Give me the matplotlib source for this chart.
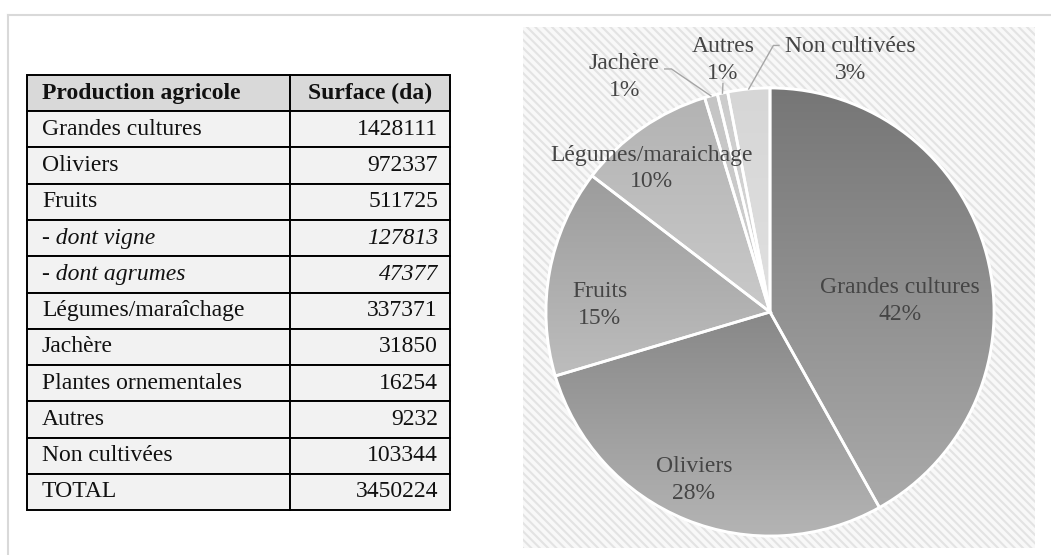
import matplotlib
matplotlib.use('Agg')
import matplotlib.pyplot as plt
import numpy as np
from matplotlib.colors import LinearSegmentedColormap
from matplotlib.patches import Wedge, Rectangle
from matplotlib.lines import Line2D

plt.rcParams['font.family'] = ['Liberation Serif', 'DejaVu Serif']
plt.rcParams['hatch.color'] = '#e3e3e3'
plt.rcParams['hatch.linewidth'] = 1.5

# table data
productions = ['Grandes cultures', 'Oliviers', 'Fruits', '- dont vigne', '- dont agrumes',
               'Légumes/maraîchage', 'Jachère', 'Plantes ornementales', 'Autres',
               'Non cultivées', 'TOTAL']
surfaces = ['1428111', '972337', '511725', '127813', '47377', '337371', '31850',
            '16254', '9232', '103344', '3450224']
italic_rows = ['- dont vigne', '- dont agrumes']

# pie data (Autres in the pie also holds Plantes ornementales: 9232 + 16254)
pie_labels = ['Grandes cultures', 'Oliviers', 'Fruits', 'Légumes/maraichage',
              'Jachère', 'Autres', 'Non cultivées']
pie_values = [1428111, 972337, 511725, 337371, 31850, 25486, 103344]
pie_pct = ['42%', '28%', '15%', '10%', '1%', '1%', '3%']

# styles
grad_top = ['#767676', '#888888', '#9c9c9c', '#b3b3b3', '#c4c4c4', '#cccccc', '#d6d6d6']
grad_bot = ['#aaaaaa', '#b4b4b4', '#bdbdbd', '#c9c9c9', '#d2d2d2', '#d8d8d8', '#e0e0e0']
label_pos = [(0.58, 0.05), (-0.34, -0.75), (-0.76, 0.03), (-0.53, 0.64),
             (-0.65, 1.05), (-0.21, 1.125), (0.36, 1.125)]
W, H = 1051, 555

fig = plt.figure(figsize=(W / 100, H / 100), dpi=100)
fig.patch.set_facecolor('white')

# light outer frame
fig.add_artist(Line2D([8 / W, 1], [1 - 15 / H, 1 - 15 / H], color='#d9d9d9', lw=1.5))
fig.add_artist(Line2D([8 / W, 8 / W], [0, 1 - 15 / H], color='#d9d9d9', lw=1.5))

# ---- table ----
tax = fig.add_axes([27 / W, 1 - 510 / H, 423 / W, 435 / H])
tax.axis('off')
cells = [['Production agricole', 'Surface (da)']] + [[p, s] for p, s in zip(productions, surfaces)]
tbl = tax.table(cellText=cells, colWidths=[263 / 423, 160 / 423], bbox=[0, 0, 1, 1])
tbl.auto_set_font_size(False)
for (r, c), cell in tbl.get_celld().items():
    cell.set_edgecolor('black')
    cell.set_linewidth(1.4)
    txt = cell.get_text()
    txt.set_fontsize(17)
    txt.set_color('#111111')
    if r == 0:
        cell.set_facecolor('#d9d9d9')
        txt.set_fontweight('bold')
        cell._loc = 'left' if c == 0 else 'center'
        cell.PAD = 0.057
    else:
        cell.set_facecolor('#f2f2f2')
        if c == 0:
            cell._loc = 'left'
            cell.PAD = 0.057
        else:
            cell._loc = 'right'
            cell.PAD = 0.075
        if cells[r][0] in italic_rows:
            txt.set_fontstyle('italic')
    txt.set_horizontalalignment(cell._loc)

# ---- pie ----
px0, py0, pw, ph = 523, 27, 512, 521
pax = fig.add_axes([px0 / W, 1 - (py0 + ph) / H, pw / W, ph / H])
pax.add_patch(Rectangle((0, 0), 1, 1, transform=pax.transAxes, facecolor='#f8f8f8',
                        edgecolor='#e3e3e3', linewidth=0, hatch='\\' * 4, zorder=0))

wedges, _ = pax.pie(pie_values, startangle=90, counterclock=False, colors=grad_bot,
                    wedgeprops=dict(edgecolor='white', linewidth=2))
grad = np.linspace(0, 1, 256).reshape(-1, 1)
for i, w in enumerate(wedges):
    ext = w.get_path().get_extents()
    cmap = LinearSegmentedColormap.from_list('g%d' % i, [grad_bot[i], grad_top[i]])
    im = pax.imshow(grad, cmap=cmap, origin='lower', aspect='auto',
                    extent=(ext.x0, ext.x1, ext.y0, ext.y1), zorder=2)
    im.set_clip_path(w)
    pax.add_patch(Wedge(w.center, w.r, w.theta1, w.theta2, facecolor='none',
                        edgecolor='white', linewidth=2, zorder=3))

for lab, pct, (x, y) in zip(pie_labels, pie_pct, label_pos):
    pax.text(x, y, lab + '\n' + pct, ha='center', va='center', fontsize=17,
             color='#454545', linespacing=1.35, zorder=5)

# leader lines for the small slices
def edge_point(w, r=1.0):
    a = np.deg2rad((w.theta1 + w.theta2) / 2)
    return r * np.cos(a), r * np.sin(a)

ex, ey = edge_point(wedges[4])
pax.plot([-0.47, -0.44, ex], [1.085, 1.085, ey], color='#a6a6a6', lw=1, zorder=4)
ex, ey = edge_point(wedges[5])
pax.plot([-0.21, ex], [1.02, ey], color='#a6a6a6', lw=1, zorder=4)
ex, ey = edge_point(wedges[6])
pax.plot([0.04, 0.015, ex], [1.19, 1.19, ey], color='#a6a6a6', lw=1, zorder=4)

# place the pie centre at pixel (770, 312) with radius 224 px
cx, cy, R = 770, 312, 224
pax.set_xlim(-(cx - px0) / R, (px0 + pw - cx) / R)
pax.set_ylim(-(py0 + ph - cy) / R, (cy - py0) / R)
pax.set_aspect('auto')

fig.savefig('out.png', dpi=100)
